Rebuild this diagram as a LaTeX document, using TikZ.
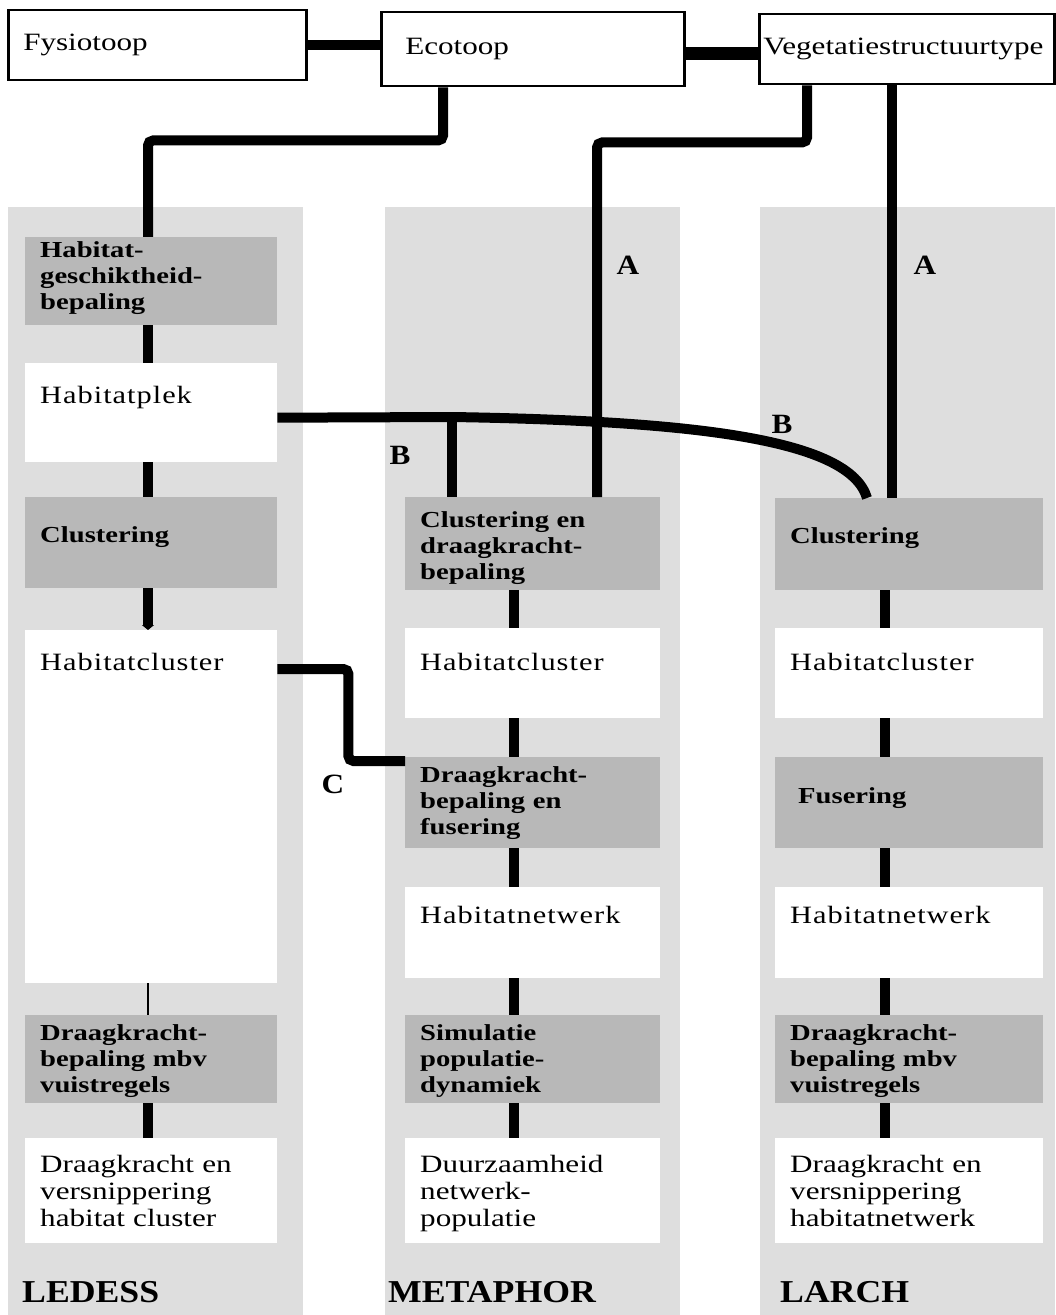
\documentclass[tikz,border=0pt]{standalone}
\usepackage{fontspec}
\setmainfont[FakeStretch=1.25]{Liberation Serif}
\newfontfamily\spacedfont[FakeStretch=1.22,LetterSpace=4]{Liberation Serif}
\newfontfamily\heavyfont[FakeStretch=1.12]{Liberation Serif}
\usepackage{tikz}
\usetikzlibrary{arrows.meta,calc,positioning}
\definecolor{colgray}{gray}{0.87}
\definecolor{boxgray}{gray}{0.72}

\tikzset{
  topbox/.style={draw, line width=2.5bp, anchor=north west, align=left,
                 inner ysep=0pt, minimum height=70bp, font=\fontsize{25}{28}\selectfont},
  darkbox/.style={fill=boxgray, anchor=north west, align=left, inner xsep=15bp,
                  inner ysep=0pt, font=\bfseries\fontsize{23}{26}\selectfont},
  whitebox/.style={fill=white, anchor=north west, align=left, inner xsep=15bp,
                   inner ysep=0pt, font=\fontsize{25}{27}\selectfont},
  hd/.style 2 args={text height=#1bp, text depth=#2bp},
  ledcol/.style={text width=222bp},
  metcol/.style={text width=225bp},
  larcol/.style={text width=238bp},
  bar/.style={line width=10bp},
  conn/.style={line width=10bp, rounded corners=5bp},
  tag/.style={font=\heavyfont\bfseries\fontsize{28}{30}\selectfont, inner sep=0pt},
  method/.style={font=\heavyfont\bfseries\fontsize{32}{34}\selectfont, inner sep=0pt,
                 anchor=base west}
}

\begin{document}
\begin{tikzpicture}[x=1bp,y=-1bp]
\useasboundingbox (0,0) rectangle (1055,1315);
\fill[white] (0,0) rectangle (1055,1315);
% column backgrounds
\fill[colgray] (8,207) rectangle (303,1315);
\fill[colgray] (385,207) rectangle (680,1315);
\fill[colgray] (760,207) rectangle (1055,1315);

% top row
\node[topbox, inner xsep=15bp, text width=268bp] (fys) at (7,9) {Fysiotoop};
\node[topbox, inner xsep=24bp, text width=255bp, minimum height=74bp] (eco) at (380,11) {Ecotoop};
\node[topbox, inner xsep=4bp, text width=287bp] (veg) at (758,13) {Vegetatiestructuurtype};

% LEDESS
\node[darkbox, ledcol, hd={20}{68}] (ledgesch) at (25,237) {Habitat-\\geschiktheid-\\bepaling};
\node[whitebox, ledcol, hd={40}{59}] (ledplek) at (25,363) {\spacedfont Habitatplek};
\node[darkbox, ledcol, hd={45}{46}] (ledclus) at (25,497) {Clustering};
\node[whitebox, ledcol, hd={40}{313}] (ledhcl) at (25,630) {\spacedfont Habitatcluster};
\node[darkbox, ledcol, hd={25}{63}] (leddraag) at (25,1015) {Draagkracht-\\bepaling mbv\\vuistregels};
\node[whitebox, ledcol, hd={34}{71}] (ledres) at (25,1138) {Draagkracht en\\versnippering\\habitat cluster};

% METAPHOR
\node[darkbox, metcol, hd={30}{63}] (metclus) at (405,497) {Clustering en\\draagkracht-\\bepaling};
\node[whitebox, metcol, hd={42}{48}] (methcl) at (405,628) {\spacedfont Habitatcluster};
\node[darkbox, metcol, hd={25}{66}] (metfus) at (405,757) {Draagkracht-\\bepaling en\\fusering};
\node[whitebox, metcol, hd={36}{55}] (metnet) at (405,887) {\spacedfont Habitatnetwerk};
\node[darkbox, metcol, hd={25}{63}] (metsim) at (405,1015) {Simulatie\\populatie-\\dynamiek};
\node[whitebox, metcol, hd={34}{71}] (metres) at (405,1138) {Duurzaamheid\\netwerk-\\populatie};

% LARCH
\node[darkbox, larcol, hd={45}{47}] (larclus) at (775,498) {Clustering};
\node[whitebox, larcol, hd={42}{48}] (larhcl) at (775,628) {\spacedfont Habitatcluster};
\node[darkbox, larcol, hd={46}{45}, inner xsep=23bp, text width=222bp] (larfus) at (775,757) {Fusering};
\node[whitebox, larcol, hd={36}{55}] (larnet) at (775,887) {\spacedfont Habitatnetwerk};
\node[darkbox, larcol, hd={25}{63}] (lardraag) at (775,1015) {Draagkracht-\\bepaling mbv\\vuistregels};
\node[whitebox, larcol, hd={34}{71}] (larres) at (775,1138) {Draagkracht en\\versnippering\\habitatnetwerk};

% model names
\node[method] (ledess) at (22,1302) {LEDESS};
\node[method] (metaphor) at (388,1302) {METAPHOR};
\node[method] (larch) at (780,1302) {LARCH};

% top links
\draw[line width=10bp] (fys.east) -- (fys.east -| eco.west);
\draw[line width=13bp] ([yshift=-4bp]eco.east) -- ([yshift=-4bp]eco.east -| veg.west);

\coordinate (ledX) at (148,0);
\coordinate (metX) at (514,0);
\coordinate (larX) at (885,0);
\coordinate (metA) at (597,0);
\coordinate (larB) at (867,0);
\coordinate (ecoDown) at ([xshift=63bp]eco.south west);
\coordinate (vegL) at ([xshift=49bp]veg.south west);
\coordinate (vegR) at ([xshift=134bp]veg.south west);

\draw[conn] (ecoDown) -- ++(0,53) -| (ledX |- ledgesch.north);
\draw[conn] (vegL) -- ++(0,57) -| (metA |- metclus.north);
\draw[conn] (vegR) -- (vegR |- larclus.north);

% B link
\coordinate (plekOut) at ([yshift=-5bp]ledplek.east);
\coordinate (bsplit) at (452,417);
\draw[line width=10bp] (plekOut) -- (bsplit) .. controls (700,421) and (850,440) .. (larB |- larclus.north);
\draw[bar] (bsplit) -- (bsplit |- metclus.north);

% C link
\coordinate (hclOut) at ([yshift=-39bp]ledhcl.north east);
\coordinate (fusIn) at ([yshift=-4bp]metfus.north west);
\draw[conn] (hclOut) -- ++(71,0) |- (fusIn);

% steps inside the columns
\foreach \a/\b in {ledgesch/ledplek, ledplek/ledclus, leddraag/ledres}
  \draw[bar] (\a.south -| ledX) -- (\b.north -| ledX);
\draw[bar, -{Triangle[length=5bp, width=12bp]}] (ledclus.south -| ledX) -- (ledhcl.north -| ledX);
\draw[line width=2bp] (ledhcl.south -| ledX) -- (leddraag.north -| ledX);
\foreach \a/\b in {metclus/methcl, methcl/metfus, metfus/metnet, metnet/metsim, metsim/metres}
  \draw[bar] (\a.south -| metX) -- (\b.north -| metX);
\foreach \a/\b in {larclus/larhcl, larhcl/larfus, larfus/larnet, larnet/lardraag, lardraag/larres}
  \draw[bar] (\a.south -| larX) -- (\b.north -| larX);

% labels
\node[tag] (tagA1) at (628,265) {A};
\node[tag] (tagA2) at (925,265) {A};
\node[tag] (tagB1) at (400,455) {B};
\node[tag] (tagB2) at (782,424) {B};
\node[tag] (tagC) at (333,784) {C};
\end{tikzpicture}
\end{document}
